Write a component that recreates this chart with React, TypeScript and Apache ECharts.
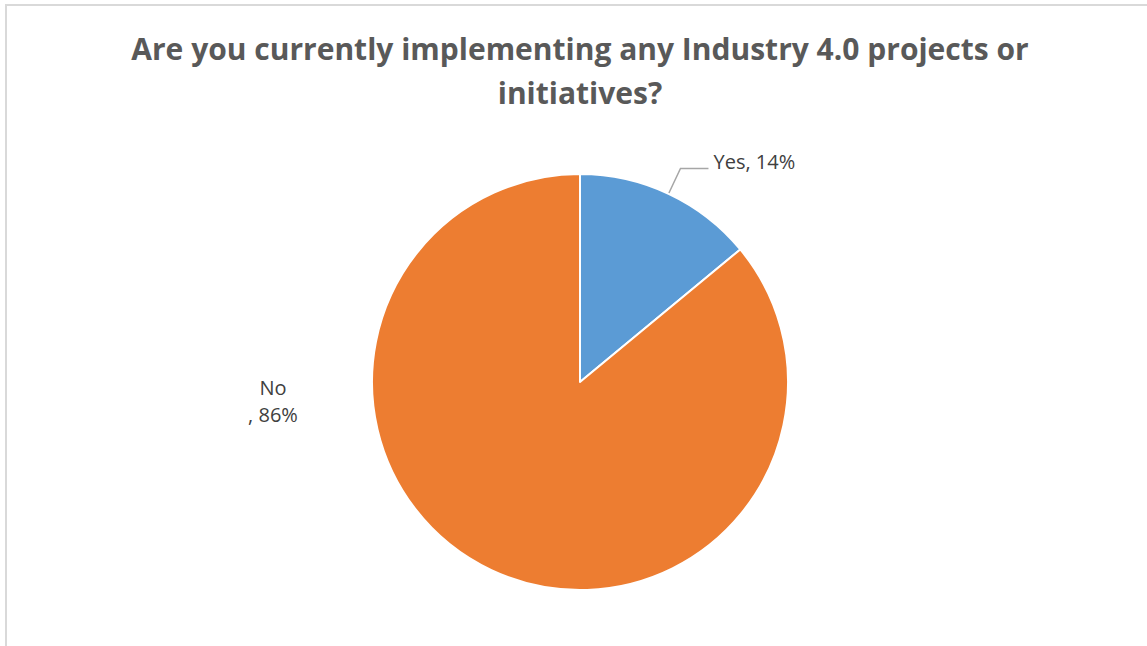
import React, { useEffect, useRef } from "react";
import * as echarts from "echarts";

const titleText = "Are you currently implementing any Industry 4.0 projects or\ninitiatives?";
const categories = ["Yes", "No"];
const shares = [14, 86];
const sliceColors = ["#5B9BD5", "#ED7D31"];

export default function App() {
  const ref = useRef<HTMLDivElement>(null);

  useEffect(() => {
    document.body.style.margin = "0";
    if (!ref.current) return;
    const chart = echarts.init(ref.current, undefined, { renderer: "svg" });

    const data = categories.map((name, i) => ({
      name,
      value: shares[i],
      itemStyle: { color: sliceColors[i] },
      label:
        name === "No"
          ? { formatter: "{b}\n, {c}%", align: "center", lineHeight: 27 }
          : { formatter: "{t|{b}, {c}%}" },
      labelLine: { show: name !== "No" },
    }));

    chart.setOption({
      animation: false,
      backgroundColor: "#ffffff",
      title: {
        text: titleText,
        left: 575,
        textAlign: "center",
        top: 21,
        textStyle: {
          fontFamily: "Open Sans",
          fontWeight: "bold",
          fontSize: 30,
          lineHeight: 44,
          color: "#595959",
        },
      },
      graphic: [
        {
          type: "polyline",
          shape: { points: [[6, 660], [6, 5], [1160, 5]] },
          style: { stroke: "#d9d9d9", lineWidth: 2, fill: "none" },
          silent: true,
        },
      ],
      series: [
        {
          type: "pie",
          center: [580, 382],
          radius: 208,
          startAngle: 90,
          clockwise: true,
          data,
          itemStyle: { borderColor: "#ffffff", borderWidth: 2 },
          label: {
            show: true,
            position: "outside",
            fontFamily: "Open Sans",
            fontSize: 20,
            color: "#404040",
            rich: {
              t: {
                fontFamily: "Open Sans",
                fontSize: 20,
                color: "#404040",
                padding: [0, 0, 13, 0],
              },
            },
          },
          labelLine: {
            show: true,
            length: 28,
            length2: 28,
            lineStyle: { color: "#a6a6a6", width: 1.5 },
          },
          labelLayout: (params: any) => {
            if (params.dataIndex === 1) {
              return { x: 273, y: 401, align: "center", verticalAlign: "middle" };
            }
            return {};
          },
        },
      ],
    });

    return () => chart.dispose();
  }, []);

  return <div ref={ref} style={{ width: 1147, height: 646 }} />;
}
